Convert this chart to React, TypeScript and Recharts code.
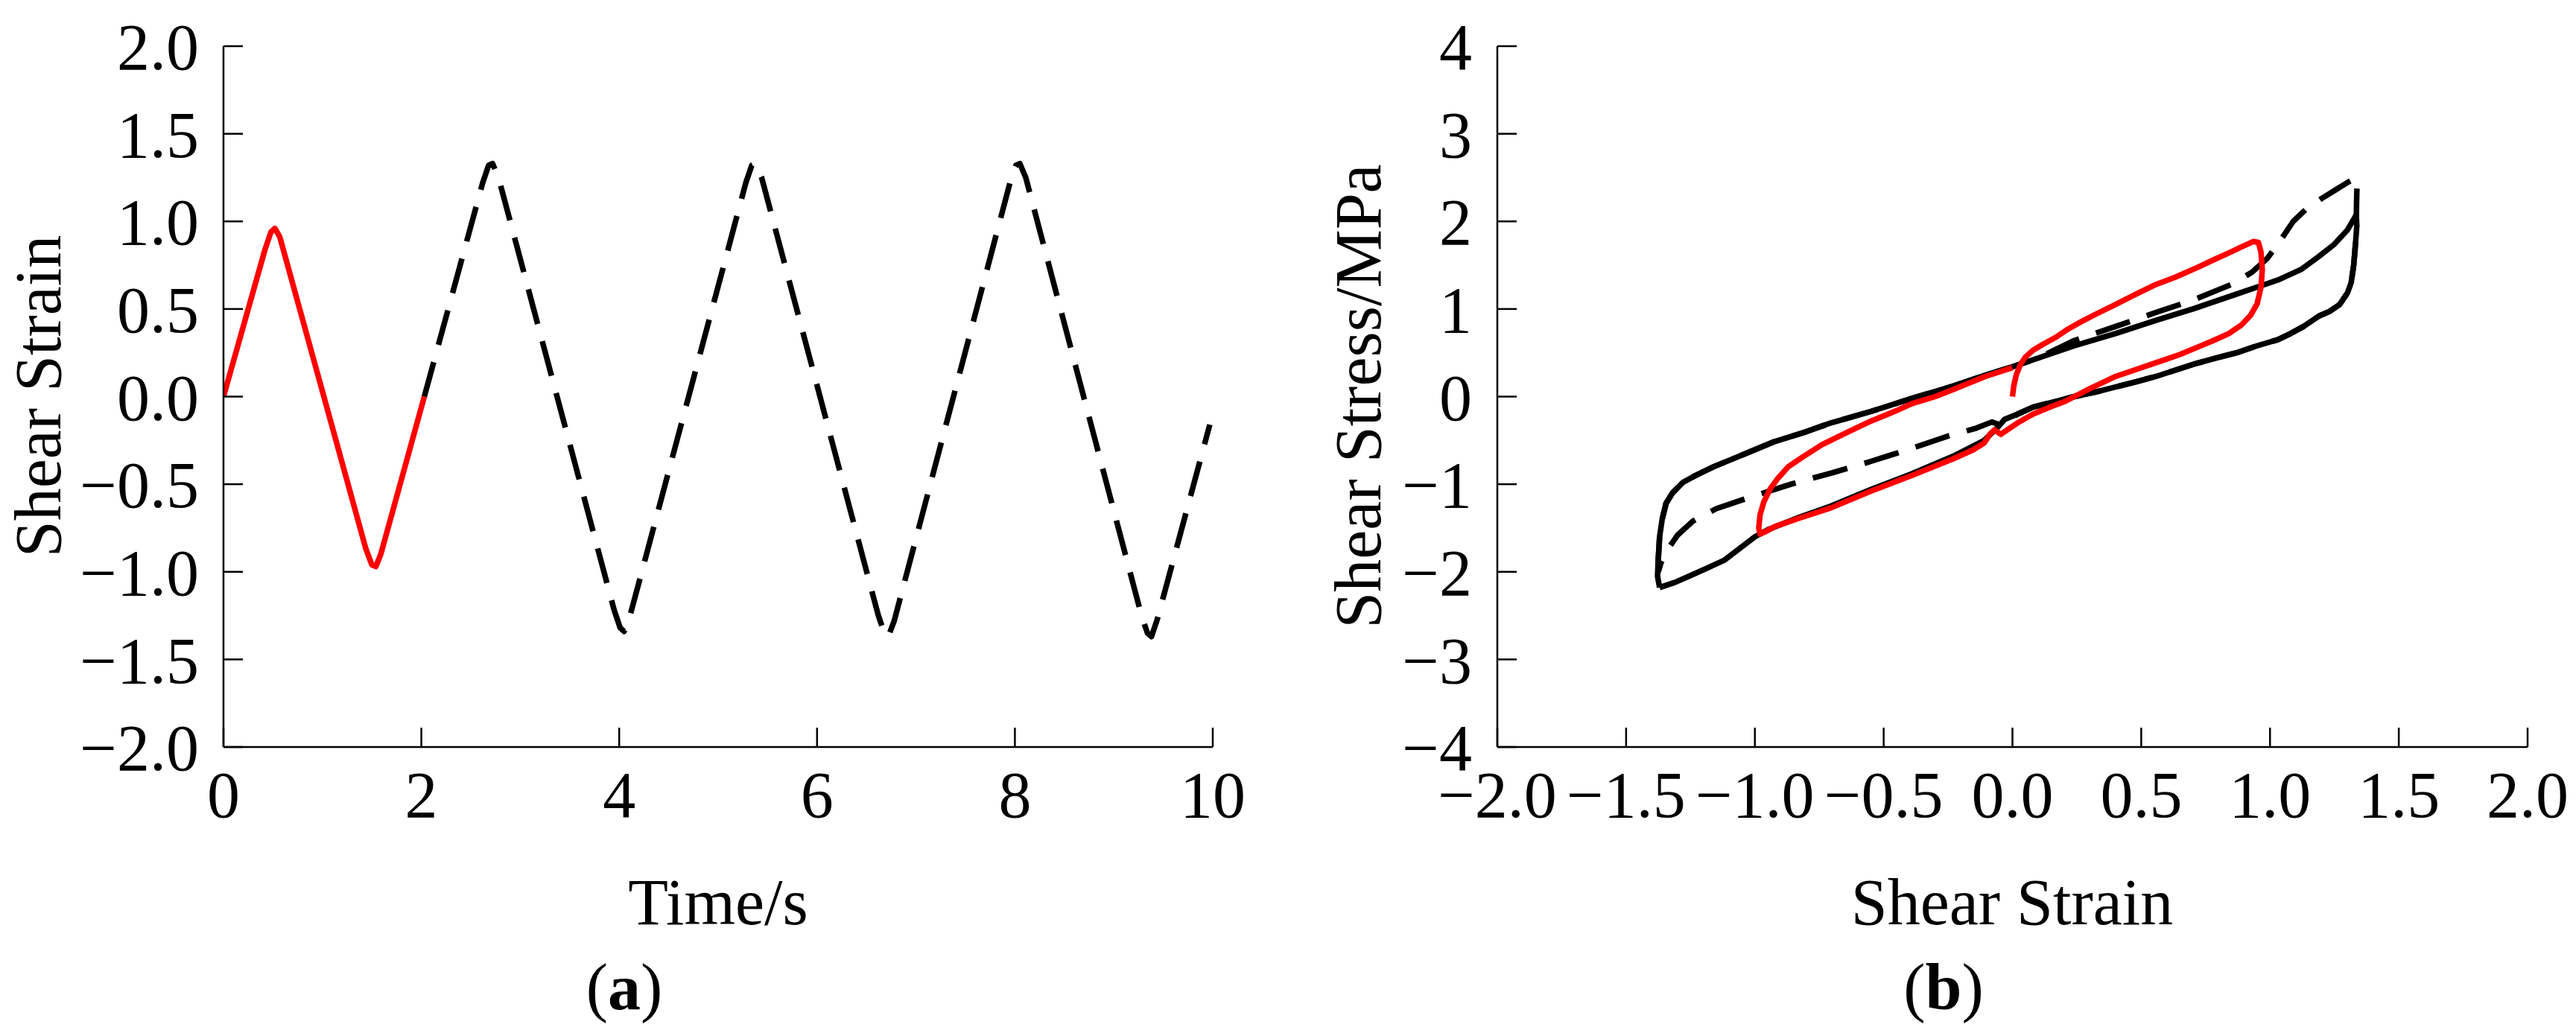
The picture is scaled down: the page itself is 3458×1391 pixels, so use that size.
import React from 'react';
import { LineChart, Line, XAxis, YAxis } from 'recharts';

// ---------- Panel (a): shear strain vs time ----------
const timeTicks = [0, 2, 4, 6, 8, 10];
const strainTicksA = [-2, -1.5, -1, -0.5, 0, 0.5, 1, 1.5, 2];

const redTime = [0, 0.42, 0.48, 0.52, 0.57, 1.44, 1.5, 1.54, 1.59, 2.03];
const redStrain = [0, 0.84, 0.94, 0.96, 0.91, -0.87, -0.96, -0.97, -0.9, 0];

const dashTime = [2.03, 2.62, 2.68, 2.72, 2.78, 3.95, 4.01, 4.05, 4.11, 5.28, 5.34, 5.38, 5.44, 6.62, 6.68, 6.72, 6.78, 7.95, 8.01, 8.05, 8.11, 9.28, 9.34, 9.38, 9.44, 9.97];
const dashStrain = [0, 1.22, 1.32, 1.33, 1.25, -1.22, -1.32, -1.34, -1.25, 1.22, 1.32, 1.33, 1.25, -1.25, -1.35, -1.37, -1.28, 1.22, 1.32, 1.33, 1.25, -1.25, -1.35, -1.37, -1.27, -0.16];

// ---------- Panel (b): shear stress vs shear strain ----------
const strainTicksB = [-2, -1.5, -1, -0.5, 0, 0.5, 1, 1.5, 2];
const stressTicks = [-4, -3, -2, -1, 0, 1, 2, 3, 4];

const loopRedStrain = [0, 0.005, 0.015, 0.03, 0.05, 0.08, 0.12, 0.17, 0.21, 0.27, 0.33, 0.4, 0.48, 0.557, 0.63, 0.715, 0.78, 0.84, 0.89, 0.935, 0.955, 0.965, 0.97, 0.965, 0.95, 0.925, 0.89, 0.84, 0.78, 0.715, 0.65, 0.59, 0.5, 0.4, 0.3, 0.2, 0.146, 0.08, 0.02, -0.02, -0.045, -0.07, -0.085, -0.11, -0.154, -0.23, -0.39, -0.55, -0.705, -0.83, -0.92, -0.965, -0.98, -0.985, -0.98, -0.965, -0.94, -0.91, -0.87, -0.82, -0.74, -0.65, -0.55, -0.45, -0.39, -0.3, -0.23, -0.106, 0];
const loopRedStress = [0, 0.12, 0.25, 0.36, 0.45, 0.53, 0.6, 0.68, 0.76, 0.86, 0.95, 1.05, 1.17, 1.28, 1.36, 1.47, 1.56, 1.64, 1.71, 1.77, 1.76, 1.65, 1.45, 1.25, 1.06, 0.93, 0.82, 0.72, 0.64, 0.56, 0.48, 0.42, 0.33, 0.23, 0.09, -0.06, -0.12, -0.2, -0.3, -0.38, -0.43, -0.38, -0.42, -0.53, -0.61, -0.71, -0.9, -1.08, -1.27, -1.39, -1.48, -1.55, -1.57, -1.5, -1.35, -1.2, -1.05, -0.93, -0.8, -0.7, -0.55, -0.42, -0.28, -0.16, -0.08, 0.0, 0.08, 0.23, 0.33];

const loopSolidStrain = [-1.37, -1.378, -1.375, -1.37, -1.36, -1.345, -1.32, -1.28, -1.23, -1.16, -1.085, -0.93, -0.8, -0.705, -0.55, -0.39, -0.23, -0.1, 0, 0.1, 0.24, 0.4, 0.557, 0.7, 0.87, 1.03, 1.12, 1.19, 1.25, 1.3, 1.33, 1.335, 1.337, 1.332, 1.325, 1.315, 1.3, 1.27, 1.23, 1.19, 1.13, 1.08, 1.03, 0.95, 0.87, 0.79, 0.715, 0.63, 0.557, 0.48, 0.4, 0.32, 0.24, 0.16, 0.08, 0.02, -0.03, -0.06, -0.11, -0.23, -0.39, -0.55, -0.705, -0.83, -0.95, -1.0, -1.12, -1.24, -1.31, -1.37];
const loopSolidStress = [-2.18, -2.05, -1.85, -1.6, -1.4, -1.22, -1.1, -0.98, -0.9, -0.8, -0.71, -0.52, -0.4, -0.3, -0.17, -0.02, 0.12, 0.25, 0.34, 0.44, 0.58, 0.72, 0.87, 1.0, 1.17, 1.33, 1.45, 1.6, 1.74, 1.9, 2.05, 2.08, 1.95, 1.75, 1.5, 1.3, 1.18, 1.05, 0.97, 0.92, 0.8, 0.72, 0.65, 0.58, 0.5, 0.44, 0.38, 0.3, 0.23, 0.17, 0.11, 0.05, 0.0, -0.06, -0.12, -0.2, -0.26, -0.36, -0.5, -0.68, -0.88, -1.06, -1.25, -1.38, -1.52, -1.6, -1.87, -2.03, -2.12, -2.18];

const loopDashStrain = [-1.375, -1.375, -1.37, -1.36, -1.345, -1.32, -1.28, -1.23, -1.16, -1.085, -0.93, -0.8, -0.705, -0.55, -0.39, -0.23, -0.1, 0, 0.1, 0.24, 0.4, 0.557, 0.7, 0.85, 0.93, 0.99, 1.04, 1.09, 1.14, 1.2, 1.26, 1.31, 1.335, 1.338, 1.336, 1.335, 1.332, 1.325, 1.315, 1.3, 1.27, 1.23, 1.19, 1.13, 1.08, 1.03, 0.95, 0.87, 0.79, 0.715, 0.63, 0.557, 0.48, 0.4, 0.32, 0.24, 0.16, 0.08, 0.02, -0.04, -0.08, -0.14, -0.25, -0.4, -0.55, -0.7, -0.86, -1.02, -1.15, -1.24, -1.3, -1.34, -1.365, -1.375];
const loopDashStress = [-2.0, -1.85, -1.6, -1.4, -1.22, -1.1, -0.98, -0.9, -0.8, -0.71, -0.52, -0.4, -0.3, -0.17, -0.02, 0.12, 0.25, 0.34, 0.44, 0.64, 0.8, 0.96, 1.1, 1.28, 1.42, 1.58, 1.78, 2.0, 2.14, 2.26, 2.37, 2.46, 2.5, 2.45, 2.2, 2.0, 1.75, 1.5, 1.3, 1.18, 1.05, 0.97, 0.92, 0.8, 0.72, 0.65, 0.58, 0.5, 0.44, 0.38, 0.3, 0.23, 0.17, 0.11, 0.05, 0.0, -0.06, -0.12, -0.2, -0.33, -0.29, -0.36, -0.45, -0.6, -0.74, -0.87, -1.0, -1.15, -1.28, -1.42, -1.58, -1.75, -1.9, -2.0];

const zip = (xs: number[], ys: number[]) => xs.map((x, i) => ({ x, y: ys[i] }));

const redA = zip(redTime, redStrain);
const dashA = zip(dashTime, dashStrain);
const redB = zip(loopRedStrain, loopRedStress);
const solidB = zip(loopSolidStrain, loopSolidStress);
const dashB = zip(loopDashStrain, loopDashStress);

const FONT = "'Liberation Serif', Tinos, 'Times New Roman', 'DejaVu Serif', 'Noto Serif', serif";
const FS = 88;
const minus = (s: string) => s.replace('-', '\u2212');
const fmt1 = (v: number) => minus(v.toFixed(1));
const fmt0 = (v: number) => minus(String(v));

const tickStyle = { fill: '#000', fontSize: FS, fontFamily: FONT };
const axisLineStyle = { stroke: '#000', strokeWidth: 2.5 };

const axisCommon = {
  axisLine: axisLineStyle,
  tickLine: axisLineStyle,
  tick: tickStyle,
  tickSize: -26,
  interval: 0 as const,
  allowDataOverflow: true,
};

const LW = 7.5;
const DASH = '48 24';

const textBase: React.CSSProperties = {
  position: 'absolute',
  fontFamily: FONT,
  fontSize: FS,
  lineHeight: 1,
  color: '#000',
  whiteSpace: 'nowrap',
};

function Caption({ cx, cy, children, rotate }: { cx: number; cy: number; children: React.ReactNode; rotate?: boolean }) {
  return (
    <div
      style={{
        ...textBase,
        left: cx,
        top: cy,
        writingMode: rotate ? 'vertical-rl' : undefined,
        transform: `translate(-50%, -50%)${rotate ? ' rotate(180deg)' : ''}`,
      }}
    >
      {children}
    </div>
  );
}

export default function App() {
  return (
    <div style={{ position: 'absolute', left: 0, top: 0, width: 3458, height: 1391, background: '#fff', overflow: 'hidden', fontFamily: FONT }}>
      <div style={{ position: 'absolute', left: 0, top: 0 }}>
        <LineChart width={1700} height={1391} margin={{ top: 62, right: 72, bottom: 0, left: 0 }} style={{ fontFamily: FONT }}>
          <XAxis
            {...axisCommon}
            type="number"
            dataKey="x"
            domain={[0, 10]}
            ticks={timeTicks}
            height={388}
            tickMargin={58}
          />
          <YAxis
            {...axisCommon}
            type="number"
            dataKey="y"
            domain={[-2, 2]}
            ticks={strainTicksA}
            tickFormatter={fmt1}
            width={300}
            tickMargin={59}
          />
          <Line data={dashA} dataKey="y" type="linear" stroke="#000" strokeWidth={LW} strokeDasharray={DASH} dot={false} activeDot={false} isAnimationActive={false} strokeLinejoin="round" />
          <Line data={redA} dataKey="y" type="linear" stroke="#ff0000" strokeWidth={LW} dot={false} activeDot={false} isAnimationActive={false} strokeLinejoin="round" />
        </LineChart>
      </div>
      <div style={{ position: 'absolute', left: 1700, top: 0 }}>
        <LineChart width={1758} height={1391} margin={{ top: 62, right: 65, bottom: 0, left: 0 }} style={{ fontFamily: FONT }}>
          <XAxis
            {...axisCommon}
            type="number"
            dataKey="x"
            domain={[-2, 2]}
            ticks={strainTicksB}
            tickFormatter={fmt1}
            height={388}
            tickMargin={58}
          />
          <YAxis
            {...axisCommon}
            type="number"
            dataKey="y"
            domain={[-4, 4]}
            ticks={stressTicks}
            tickFormatter={fmt0}
            width={310}
            tickMargin={60}
          />
          <Line data={solidB} dataKey="y" type="linear" stroke="#000" strokeWidth={LW} dot={false} activeDot={false} isAnimationActive={false} strokeLinejoin="round" />
          <Line data={dashB} dataKey="y" type="linear" stroke="#000" strokeWidth={LW} strokeDasharray={DASH} dot={false} activeDot={false} isAnimationActive={false} strokeLinejoin="round" />
          <Line data={redB} dataKey="y" type="linear" stroke="#ff0000" strokeWidth={LW} dot={false} activeDot={false} isAnimationActive={false} strokeLinejoin="round" />
        </LineChart>
      </div>
      <Caption cx={52} cy={532} rotate>Shear Strain</Caption>
      <Caption cx={964} cy={1212}>Time/s</Caption>
      <Caption cx={838} cy={1326}>(<b>a</b>)</Caption>
      <Caption cx={1824} cy={532} rotate>Shear Stress/MPa</Caption>
      <Caption cx={2701} cy={1212}>Shear Strain</Caption>
      <Caption cx={2609} cy={1326}>(<b>b</b>)</Caption>
    </div>
  );
}
